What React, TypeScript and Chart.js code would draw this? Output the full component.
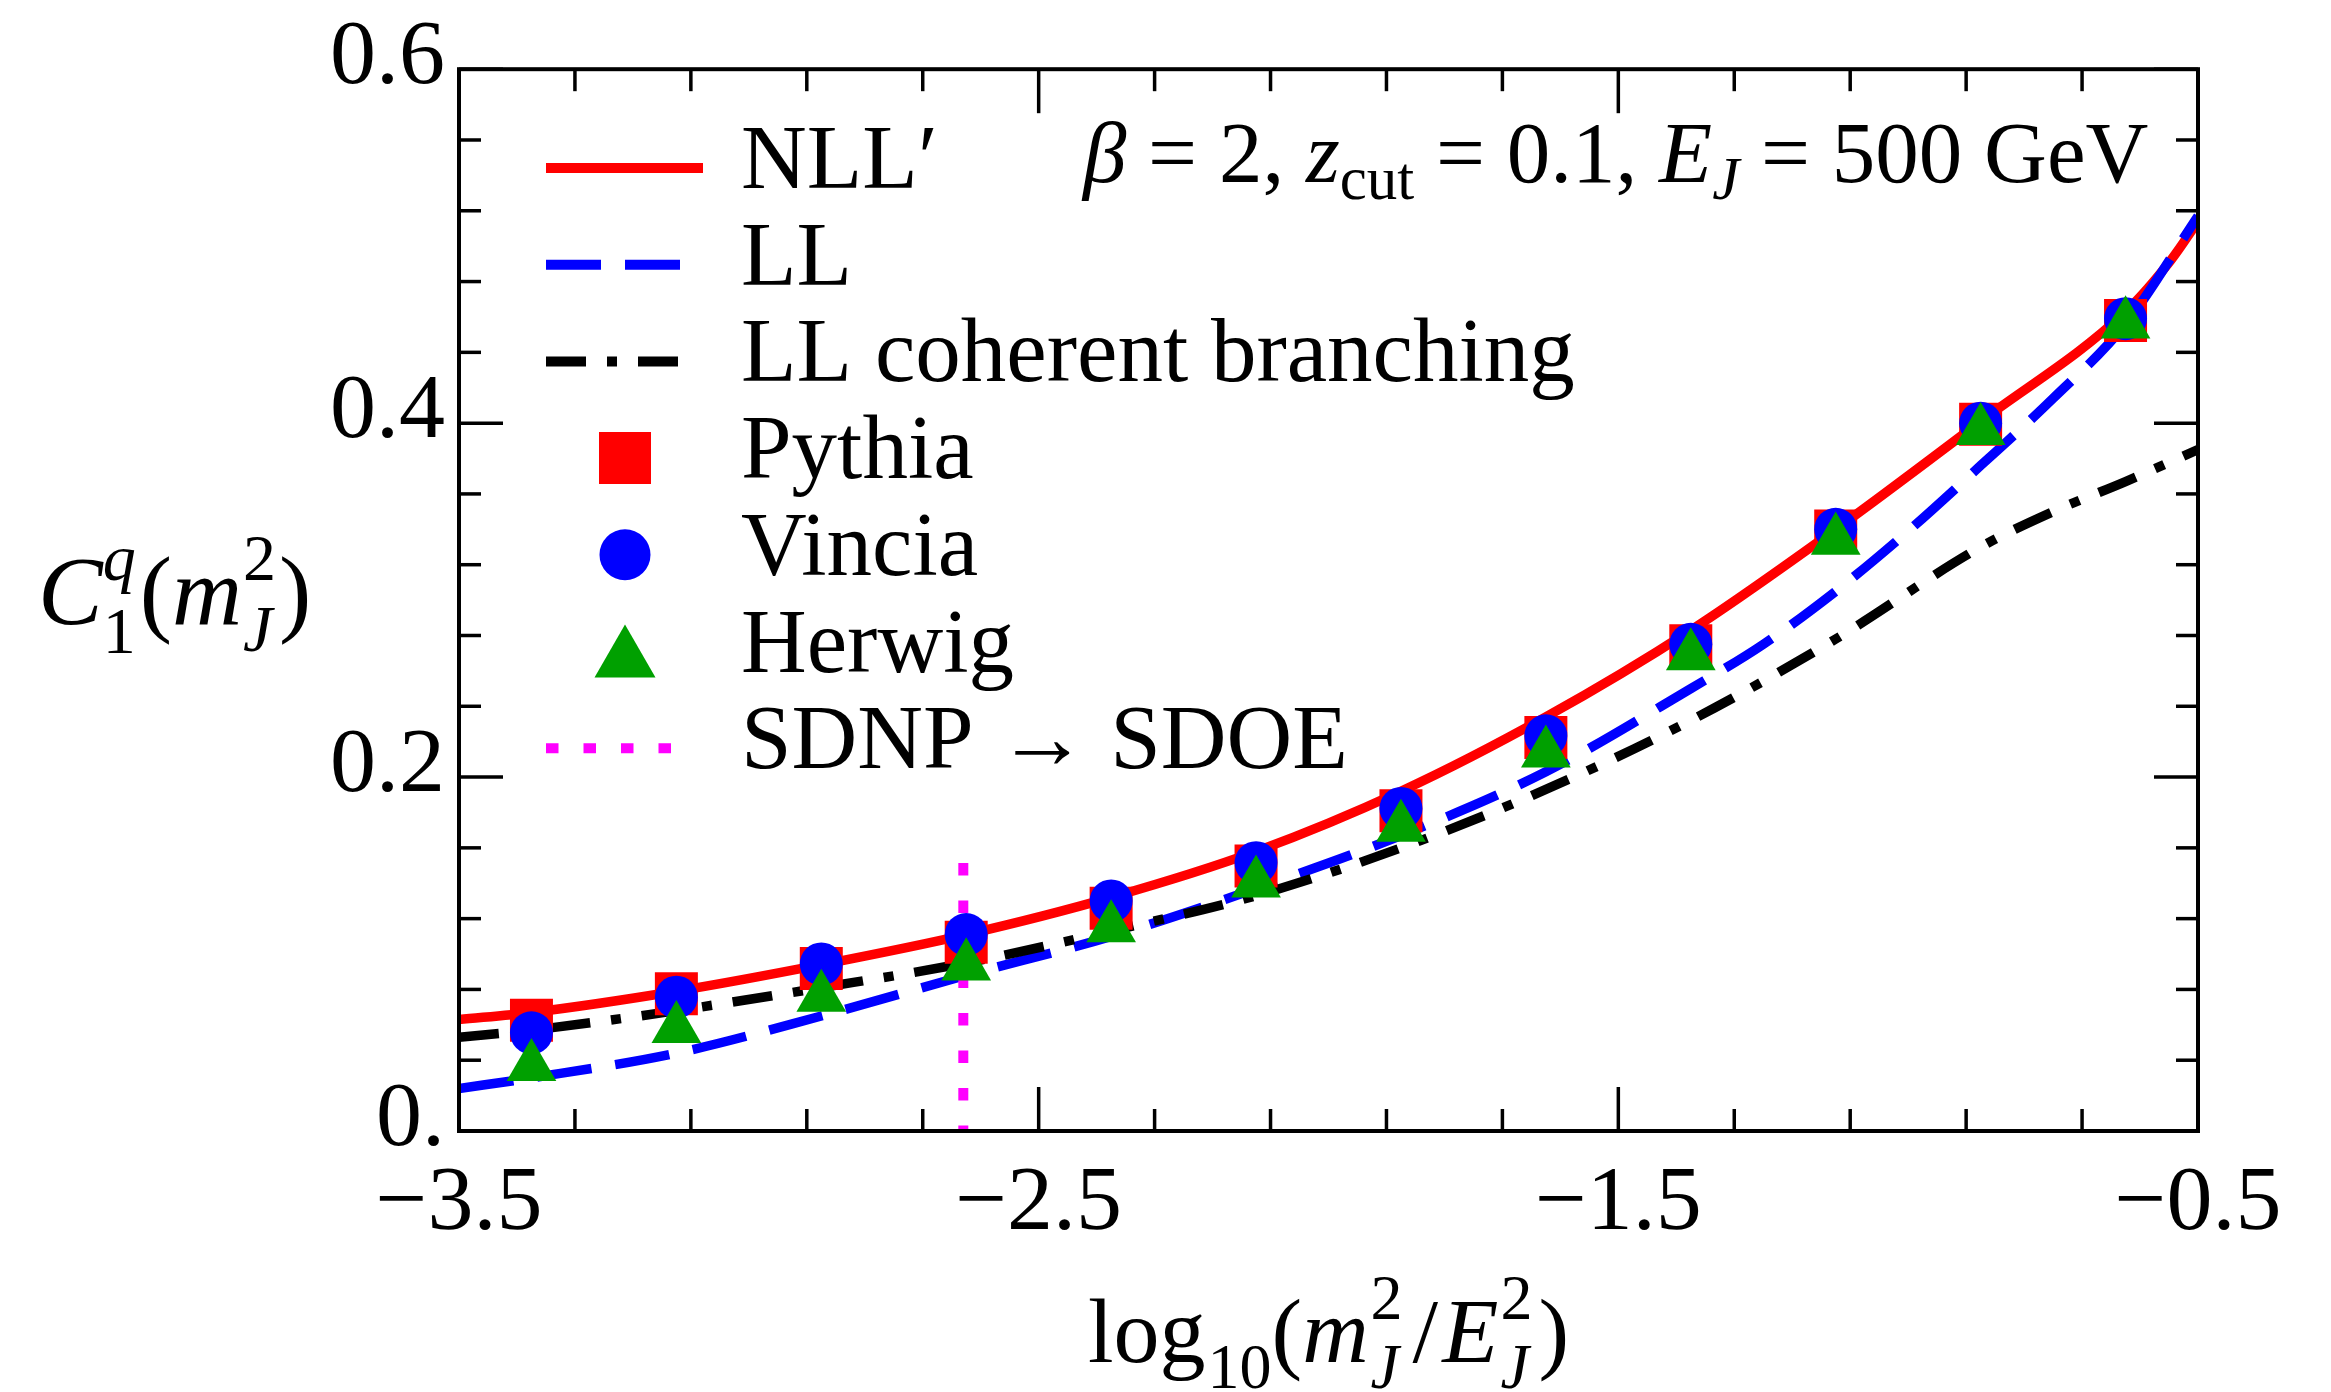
import React, { useEffect, useRef } from 'react';
import { Chart, registerables } from 'chart.js';

Chart.register(...registerables);

const W = 2331;
const H = 1392;
const SERIF = '"Liberation Serif", "Times New Roman", serif';

// ---------- data ----------
// NLL′ (red solid)
const nllX = [-3.5, -3.375, -3.125, -2.875, -2.625, -2.375, -2.125, -1.875, -1.625, -1.375, -1.125, -0.875, -0.625, -0.547, -0.5];
const nllY = [0.063, 0.067, 0.079, 0.094, 0.111, 0.132, 0.158, 0.192, 0.234, 0.283, 0.340, 0.401, 0.463, 0.492, 0.514];
// LL (blue dashed)
const llX = [-3.5, -3.375, -3.125, -2.875, -2.625, -2.375, -2.125, -1.875, -1.625, -1.375, -1.25, -1.125, -1.0, -0.875, -0.75, -0.625, -0.5];
const llY = [0.024, 0.030, 0.044, 0.065, 0.088, 0.110, 0.137, 0.167, 0.203, 0.250, 0.275, 0.305, 0.339, 0.376, 0.414, 0.456, 0.517];
// LL coherent branching (black dash-dot)
const cbX = [-3.5, -3.375, -3.125, -2.875, -2.625, -2.375, -2.125, -1.875, -1.625, -1.375, -1.125, -0.875, -0.75, -0.625, -0.5];
const cbY = [0.053, 0.057, 0.068, 0.081, 0.095, 0.113, 0.133, 0.160, 0.193, 0.232, 0.278, 0.330, 0.350, 0.367, 0.385];
// Monte Carlo points
const mcX = [-3.375, -3.125, -2.875, -2.625, -2.375, -2.125, -1.875, -1.625, -1.375, -1.125, -0.875, -0.625];
const pythiaY = [0.0626, 0.0776, 0.0918, 0.1067, 0.1259, 0.1497, 0.181, 0.2224, 0.2742, 0.339, 0.3994, 0.458];
const vinciaY = [0.0555, 0.0756, 0.0944, 0.111, 0.130, 0.1516, 0.1823, 0.2233, 0.275, 0.340, 0.400, 0.459];
const herwigY = [0.0364, 0.0578, 0.0755, 0.0932, 0.1147, 0.140, 0.1715, 0.2135, 0.2685, 0.3338, 0.3957, 0.456];
// SDNP -> SDOE transition (magenta dotted vertical)
const sdoeX = [-2.63, -2.63];
const sdoeY = [0.1515, 0];

// ---------- ticks ----------
const xTickValues = [-3.5, -2.5, -1.5, -0.5];
const xTickLabels = ['−3.5', '−2.5', '−1.5', '−0.5'];
const yTickValues = [0, 0.2, 0.4, 0.6];
const yTickLabels = ['0.', '0.2', '0.4', '0.6'];
const xMinorStep = 0.2;
const yMinorStep = 0.04;

const legendLabels = ['NLL′', 'LL', 'LL coherent branching', 'Pythia', 'Vincia', 'Herwig', 'SDNP → SDOE'];

const pts = (xs: number[], ys: number[]) => xs.map((x, i) => ({ x, y: ys[i] }));

type Piece =
  | { t: string; it?: boolean; s: number; dy?: number; dx?: number }
  | { sup: { t: string; it?: boolean; s: number; dy?: number }; sub: { t: string; it?: boolean; s: number; dy?: number }; dx?: number };

function setFont(ctx: CanvasRenderingContext2D, it: boolean | undefined, s: number) {
  ctx.font = `${it ? 'italic ' : ''}${s}px ${SERIF}`;
}
function pieceW(ctx: CanvasRenderingContext2D, p: any): number {
  if (p.sup) {
    setFont(ctx, p.sup.it, p.sup.s);
    const a = ctx.measureText(p.sup.t).width;
    setFont(ctx, p.sub.it, p.sub.s);
    const b = ctx.measureText(p.sub.t).width;
    return Math.max(a, b) + (p.dx || 0);
  }
  setFont(ctx, p.it, p.s);
  return ctx.measureText(p.t).width + (p.dx || 0);
}
function drawRich(ctx: CanvasRenderingContext2D, pieces: Piece[], x: number, y: number, align: 'left' | 'center') {
  ctx.textAlign = 'left';
  ctx.textBaseline = 'alphabetic';
  let total = 0;
  pieces.forEach((p) => (total += pieceW(ctx, p)));
  let cx = align === 'center' ? x - total / 2 : x;
  pieces.forEach((p: any) => {
    const w = pieceW(ctx, p);
    const ox = cx + (p.dx || 0);
    if (p.sup) {
      setFont(ctx, p.sup.it, p.sup.s);
      ctx.fillText(p.sup.t, ox, y + (p.sup.dy || 0));
      setFont(ctx, p.sub.it, p.sub.s);
      ctx.fillText(p.sub.t, ox, y + (p.sub.dy || 0));
    } else {
      setFont(ctx, p.it, p.s);
      ctx.fillText(p.t, ox, y + (p.dy || 0));
    }
    cx += w;
  });
}

const decorPlugin = {
  id: 'decor',
  afterDraw(chart: any) {
    const { ctx, chartArea: a } = chart;
    const xs = chart.scales.x;
    const ys = chart.scales.y;
    ctx.save();
    ctx.strokeStyle = '#000';
    ctx.lineCap = 'butt';
    // ticks (inward, all four sides)
    ctx.lineWidth = 3.5;
    const seg = (x1: number, y1: number, x2: number, y2: number) => {
      ctx.beginPath();
      ctx.moveTo(x1, y1);
      ctx.lineTo(x2, y2);
      ctx.stroke();
    };
    const xmin = xs.min, xmax = xs.max;
    for (let k = 0; ; k++) {
      const v = xmin + k * xMinorStep;
      if (v > xmax + 1e-9) break;
      const major = xTickValues.some((t) => Math.abs(t - v) < 1e-6);
      const len = major ? 44 : 22;
      const px = xs.getPixelForValue(v);
      seg(px, a.bottom, px, a.bottom - len);
      seg(px, a.top, px, a.top + len);
    }
    const ymin = ys.min, ymax = ys.max;
    for (let k = 0; ; k++) {
      const v = ymin + k * yMinorStep;
      if (v > ymax + 1e-9) break;
      const major = yTickValues.some((t) => Math.abs(t - v) < 1e-6);
      const len = major ? 44 : 22;
      const py = ys.getPixelForValue(v);
      seg(a.left, py, a.left + len, py);
      seg(a.right, py, a.right - len, py);
    }
    // frame
    ctx.lineWidth = 4;
    ctx.strokeRect(a.left, a.top, a.right - a.left, a.bottom - a.top);

    ctx.fillStyle = '#000';
    // y title
    drawRich(
      ctx,
      [
        { t: 'C', it: true, s: 97 },
        { sup: { t: 'q', it: true, s: 66, dy: -44 }, sub: { t: '1', s: 66, dy: 29 }, dx: 0 },
        { t: '(', s: 97, dx: 4 },
        { t: 'm', it: true, s: 97 },
        { sup: { t: '2', s: 66, dy: -44 }, sub: { t: 'J', it: true, s: 66, dy: 27 }, dx: 1 },
        { t: ')', s: 97, dx: 3 },
      ],
      38,
      624,
      'left'
    );
    // x title
    drawRich(
      ctx,
      [
        { t: 'log', s: 92 },
        { t: '10', s: 64, dy: 26, dx: 2 },
        { t: '(', s: 92 },
        { t: 'm', it: true, s: 92 },
        { sup: { t: '2', s: 64, dy: -43 }, sub: { t: 'J', it: true, s: 64, dy: 26 }, dx: 2 },
        { t: '/', s: 92, dx: 10 },
        { t: 'E', it: true, s: 92, dx: 4 },
        { sup: { t: '2', s: 64, dy: -43 }, sub: { t: 'J', it: true, s: 64, dy: 26 }, dx: 2 },
        { t: ')', s: 92, dx: 6 },
      ],
      (a.left + a.right) / 2,
      1362,
      'center'
    );
    // annotation
    drawRich(
      ctx,
      [
        { t: 'β', it: true, s: 87 },
        { t: ' = 2, ', s: 87 },
        { t: 'z', it: true, s: 87 },
        { t: 'cut', s: 61, dy: 17 },
        { t: ' = 0.1, ', s: 87 },
        { t: 'E', it: true, s: 87 },
        { t: 'J', it: true, s: 61, dy: 17 },
        { t: ' = 500 GeV', s: 87 },
      ],
      1083,
      182,
      'left'
    );

    // legend
    const rowY0 = 168;
    const rowStep = 96.7;
    const lx0 = 546, lx1 = 703, mx = 625, tx = 741;
    chart.data.datasets.forEach((ds: any, i: number) => {
      const y = rowY0 + i * rowStep;
      ctx.save();
      if (ds.showLine === false) {
        ctx.fillStyle = ds.backgroundColor;
        ctx.beginPath();
        if (ds.pointStyle === 'rect') {
          ctx.rect(mx - 26, y - 26, 52, 52);
        } else if (ds.pointStyle === 'circle') {
          ctx.arc(mx, y, 25.5, 0, Math.PI * 2);
        } else {
          ctx.moveTo(mx, y - 27);
          ctx.lineTo(mx + 30.5, y + 26);
          ctx.lineTo(mx - 30.5, y + 26);
          ctx.closePath();
        }
        ctx.fill();
      } else {
        ctx.strokeStyle = ds.borderColor;
        ctx.lineWidth = 10;
        ctx.setLineDash(ds.borderDash || []);
        ctx.beginPath();
        ctx.moveTo(lx0, y);
        ctx.lineTo(ds.legendEnd || lx1, y);
        ctx.stroke();
      }
      ctx.restore();
      ctx.fillStyle = '#000';
      ctx.textAlign = 'left';
      ctx.textBaseline = 'alphabetic';
      ctx.font = `91px ${SERIF}`;
      ctx.fillText(ds.label, tx, y + 20);
    });
    ctx.restore();
  },
};

export default function App() {
  const ref = useRef<HTMLCanvasElement>(null);
  useEffect(() => {
    if (!ref.current) return;
    const lineBase = {
      pointRadius: 0,
      pointHoverRadius: 0,
      borderWidth: 9.5,
      borderCapStyle: 'butt' as const,
      fill: false,
      cubicInterpolationMode: 'monotone' as const,
    };
    const chart = new Chart(ref.current, {
      type: 'line',
      data: {
        datasets: [
          { ...lineBase, label: legendLabels[0], data: pts(nllX, nllY), borderColor: '#ff0000', order: 6 },
          { ...lineBase, label: legendLabels[1], data: pts(llX, llY), borderColor: '#0000ff', borderDash: [55, 24], order: 5, legendEnd: 680 } as any,
          { ...lineBase, label: legendLabels[2], data: pts(cbX, cbY), borderColor: '#000000', borderDash: [40, 21, 10, 21], order: 4, legendEnd: 680 } as any,
          { label: legendLabels[3], data: pts(mcX, pythiaY), showLine: false, pointStyle: 'rect', pointRadius: 30.4, pointBorderWidth: 0, borderWidth: 0, backgroundColor: '#ff0000', pointBackgroundColor: '#ff0000', order: 2 } as any,
          { label: legendLabels[4], data: pts(mcX, vinciaY), showLine: false, pointStyle: 'circle', pointRadius: 21.5, pointBorderWidth: 0, borderWidth: 0, backgroundColor: '#0000ff', pointBackgroundColor: '#0000ff', order: 1 } as any,
          { label: legendLabels[5], data: pts(mcX, herwigY), showLine: false, pointStyle: 'triangle', pointRadius: 28.7, pointBorderWidth: 0, borderWidth: 0, backgroundColor: '#00a000', pointBackgroundColor: '#00a000', order: 0 } as any,
          { ...lineBase, label: legendLabels[6], data: pts(sdoeX, sdoeY), borderColor: '#ff00ff', borderWidth: 10, borderDash: [12.5, 25], cubicInterpolationMode: 'default', order: 3, legendEnd: 675 } as any,
        ],
      },
      options: {
        animation: false,
        responsive: false,
        devicePixelRatio: 1,
        events: [],
        layout: { padding: { top: 57, right: 133, bottom: 0, left: 0 } },
        plugins: { legend: { display: false }, tooltip: { enabled: false }, title: { display: false } },
        scales: {
          x: {
            type: 'linear',
            min: -3.5,
            max: -0.5,
            grid: { display: false, drawTicks: false },
            border: { display: false },
            afterBuildTicks: (s: any) => {
              s.ticks = xTickValues.map((v) => ({ value: v }));
            },
            afterFit: (s: any) => {
              s.height = 261;
            },
            ticks: {
              autoSkip: false,
              maxRotation: 0,
              minRotation: 0,
              padding: 19,
              color: '#000',
              font: { family: SERIF, size: 92 },
              callback: (_v: any, i: number) => xTickLabels[i],
            },
          },
          y: {
            type: 'linear',
            min: 0,
            max: 0.6,
            grid: { display: false, drawTicks: false },
            border: { display: false },
            afterBuildTicks: (s: any) => {
              s.ticks = yTickValues.map((v) => ({ value: v }));
            },
            afterFit: (s: any) => {
              s.width = 459;
            },
            ticks: {
              autoSkip: false,
              padding: 14,
              labelOffset: -10,
              color: '#000',
              font: { family: SERIF, size: 92 },
              callback: (_v: any, i: number) => yTickLabels[i],
            },
          },
        },
      } as any,
      plugins: [decorPlugin],
    });
    return () => chart.destroy();
  }, []);
  return (
    <div style={{ position: 'fixed', left: 0, top: 0, width: W, height: H, background: '#fff' }}>
      <canvas ref={ref} width={W} height={H} style={{ display: 'block', width: W, height: H }} />
    </div>
  );
}
